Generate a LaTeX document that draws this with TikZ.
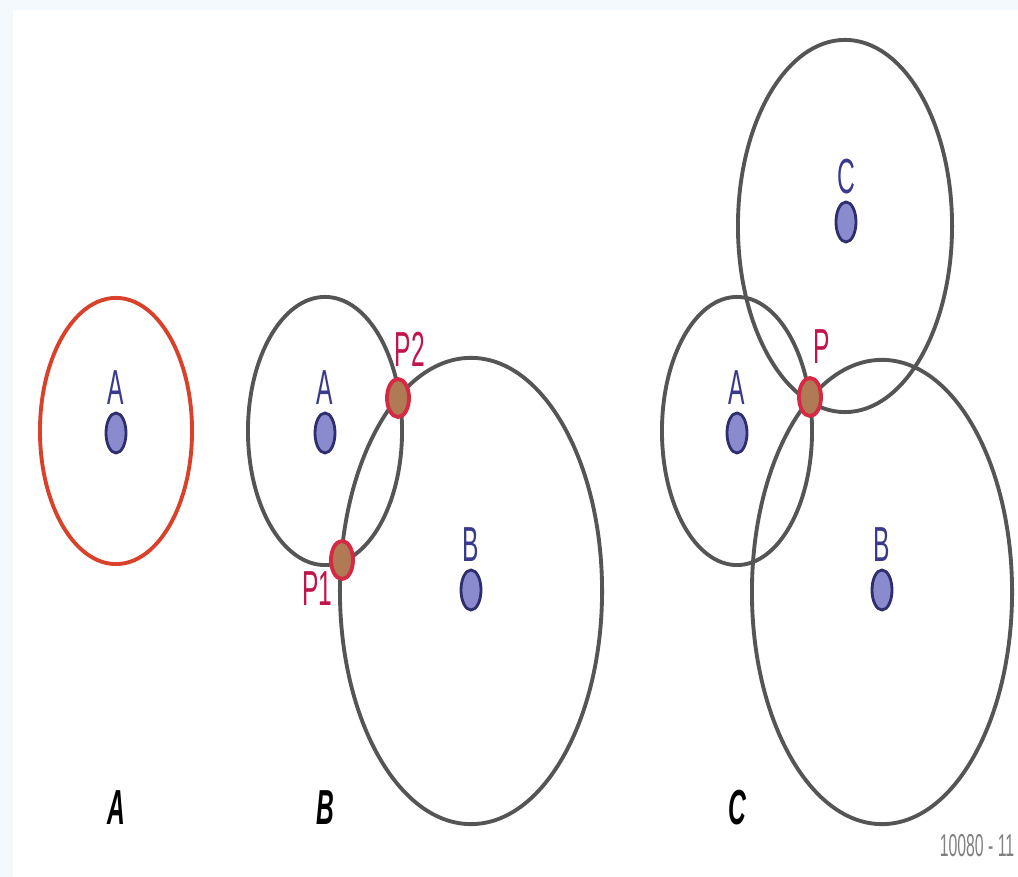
\documentclass[tikz,border=0pt]{standalone}
\usepackage{fontspec}
\newfontfamily\narrowsf[FakeStretch=0.5]{Liberation Sans}
\usetikzlibrary{shapes.geometric}
\definecolor{bgblue}{HTML}{F4F9FD}
\definecolor{ringgray}{HTML}{555555}
\definecolor{ringred}{HTML}{D9412B}
\definecolor{dotfill}{HTML}{8A8ACF}
\definecolor{dotedge}{HTML}{2E2E6E}
\definecolor{dotblue}{HTML}{3A3A8C}
\definecolor{pfill}{HTML}{B07A55}
\definecolor{pedge}{HTML}{D42A44}
\definecolor{pred}{HTML}{C0144A}
\begin{document}
\begin{tikzpicture}[x=0.01cm, y=-0.01cm,
	ring/.style={draw=ringgray, line width=1.1pt},
	dot/.style={ellipse, draw=dotedge, line width=0.8pt, fill=dotfill, minimum width=0.2cm, minimum height=0.4cm, inner sep=0pt},
	hit/.style={ellipse, draw=pedge, line width=1.1pt, fill=pfill, minimum width=0.22cm, minimum height=0.38cm, inner sep=0pt},
	dotlbl/.style={text=dotblue, font=\narrowsf\fontsize{14}{14}\selectfont, inner sep=0pt, label distance=0.06cm},
	plbl/.style={text=pred, font=\narrowsf\fontsize{14}{14}\selectfont, inner sep=0pt},
	caption/.style={font=\narrowsf\bfseries\itshape\fontsize{14}{14}\selectfont, inner sep=0pt}]
	\fill[bgblue] (0,0) rectangle (1018,877);
	\fill[white] (13,10) rectangle (1018,877);
	% A: one distance
	\draw[ringred, line width=1.1pt] (116,431) ellipse [x radius=0.76cm, y radius=1.33cm];
	\draw (116,433) node[dot, label={[dotlbl]above:A}] (Aa) {};
	\draw (116,808) node[caption] (capA) {A};
	% B: two distances
	\draw[ring] (325,431) ellipse [x radius=0.77cm, y radius=1.34cm];
	\draw[ring] (471,591) ellipse [x radius=1.31cm, y radius=2.33cm];
	\draw (325,433) node[dot, label={[dotlbl]above:A}] (Ab) {};
	\draw (471,590) node[dot, label={[dotlbl]above:B}] (Bb) {};
	\draw (398,398) node[hit, label={[plbl, label distance=0.1cm, xshift=0.12cm]above:P2}] (P2) {};
	\draw (342,560) node[hit, label={[plbl, label distance=0cm, xshift=0.02cm]below left:P1}] (P1) {};
	\draw (325,808) node[caption] (capB) {B};
	% C: three distances
	\draw[ring] (737,431) ellipse [x radius=0.75cm, y radius=1.34cm];
	\draw[ring] (845,226) ellipse [x radius=1.07cm, y radius=1.86cm];
	\draw[ring] (882,592) ellipse [x radius=1.30cm, y radius=2.32cm];
	\draw (737,433) node[dot, label={[dotlbl]above:A}] (Ac) {};
	\draw (882,590) node[dot, label={[dotlbl]above:B}] (Bc) {};
	\draw (846,222) node[dot, label={[dotlbl]above:C}] (Cc) {};
	\draw (810,397) node[hit, label={[plbl, label distance=0.12cm, xshift=0.12cm]above:P}] (P) {};
	\draw (737,808) node[caption] (capC) {C};
	\draw (977,846) node[text=gray, font=\narrowsf\fontsize{9}{9}\selectfont, inner sep=0pt] (code) {10080 - 11};
\end{tikzpicture}
\end{document}
